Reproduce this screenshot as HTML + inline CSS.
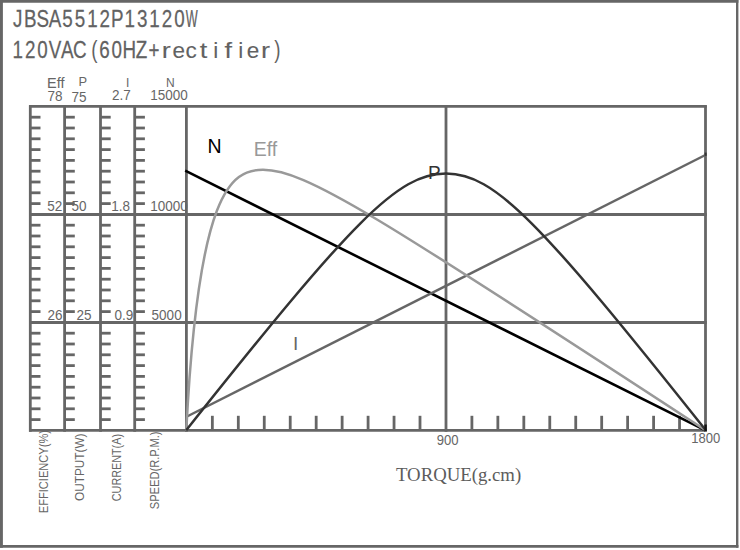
<!DOCTYPE html>
<html><head><meta charset="utf-8"><style>
html,body{margin:0;padding:0;background:#fff;width:740px;height:550px;overflow:hidden;}
svg{display:block;font-family:"Liberation Sans", sans-serif;}
</style></head><body>
<svg width="740" height="550" viewBox="0 0 740 550"><line x1="0.00" y1="1.40" x2="738.40" y2="1.40" stroke="#666" stroke-width="2.80" stroke-linecap="butt"/>
<line x1="1.45" y1="0.00" x2="1.45" y2="547.80" stroke="#666" stroke-width="2.90" stroke-linecap="butt"/>
<line x1="737.20" y1="0.00" x2="737.20" y2="547.80" stroke="#666" stroke-width="2.40" stroke-linecap="butt"/>
<line x1="0.00" y1="546.35" x2="738.40" y2="546.35" stroke="#666" stroke-width="2.90" stroke-linecap="butt"/>
<line x1="29.05" y1="106.40" x2="706.75" y2="106.40" stroke="#666" stroke-width="2.80" stroke-linecap="butt"/>
<line x1="29.05" y1="214.50" x2="706.75" y2="214.50" stroke="#666" stroke-width="2.80" stroke-linecap="butt"/>
<line x1="29.05" y1="322.50" x2="706.75" y2="322.50" stroke="#666" stroke-width="2.80" stroke-linecap="butt"/>
<line x1="29.05" y1="430.40" x2="706.75" y2="430.40" stroke="#666" stroke-width="2.80" stroke-linecap="butt"/>
<line x1="30.30" y1="105.15" x2="30.30" y2="431.65" stroke="#666" stroke-width="2.80" stroke-linecap="butt"/>
<line x1="64.60" y1="105.15" x2="64.60" y2="431.65" stroke="#666" stroke-width="2.80" stroke-linecap="butt"/>
<line x1="100.50" y1="105.15" x2="100.50" y2="431.65" stroke="#666" stroke-width="2.80" stroke-linecap="butt"/>
<line x1="134.70" y1="105.15" x2="134.70" y2="431.65" stroke="#666" stroke-width="2.80" stroke-linecap="butt"/>
<line x1="186.40" y1="105.15" x2="186.40" y2="431.65" stroke="#666" stroke-width="2.80" stroke-linecap="butt"/>
<line x1="446.00" y1="105.15" x2="446.00" y2="431.65" stroke="#666" stroke-width="2.80" stroke-linecap="butt"/>
<line x1="705.50" y1="105.15" x2="705.50" y2="431.65" stroke="#666" stroke-width="2.80" stroke-linecap="butt"/>
<line x1="30.30" y1="117.20" x2="40.50" y2="117.20" stroke="#666" stroke-width="2.80" stroke-linecap="butt"/>
<line x1="30.30" y1="128.00" x2="40.50" y2="128.00" stroke="#666" stroke-width="2.80" stroke-linecap="butt"/>
<line x1="30.30" y1="138.80" x2="40.50" y2="138.80" stroke="#666" stroke-width="2.80" stroke-linecap="butt"/>
<line x1="30.30" y1="149.60" x2="40.50" y2="149.60" stroke="#666" stroke-width="2.80" stroke-linecap="butt"/>
<line x1="30.30" y1="160.40" x2="40.50" y2="160.40" stroke="#666" stroke-width="2.80" stroke-linecap="butt"/>
<line x1="30.30" y1="171.20" x2="40.50" y2="171.20" stroke="#666" stroke-width="2.80" stroke-linecap="butt"/>
<line x1="30.30" y1="182.00" x2="40.50" y2="182.00" stroke="#666" stroke-width="2.80" stroke-linecap="butt"/>
<line x1="30.30" y1="192.80" x2="40.50" y2="192.80" stroke="#666" stroke-width="2.80" stroke-linecap="butt"/>
<line x1="30.30" y1="203.60" x2="40.50" y2="203.60" stroke="#666" stroke-width="2.80" stroke-linecap="butt"/>
<line x1="30.30" y1="225.20" x2="40.50" y2="225.20" stroke="#666" stroke-width="2.80" stroke-linecap="butt"/>
<line x1="30.30" y1="236.00" x2="40.50" y2="236.00" stroke="#666" stroke-width="2.80" stroke-linecap="butt"/>
<line x1="30.30" y1="246.80" x2="40.50" y2="246.80" stroke="#666" stroke-width="2.80" stroke-linecap="butt"/>
<line x1="30.30" y1="257.60" x2="40.50" y2="257.60" stroke="#666" stroke-width="2.80" stroke-linecap="butt"/>
<line x1="30.30" y1="268.40" x2="40.50" y2="268.40" stroke="#666" stroke-width="2.80" stroke-linecap="butt"/>
<line x1="30.30" y1="279.20" x2="40.50" y2="279.20" stroke="#666" stroke-width="2.80" stroke-linecap="butt"/>
<line x1="30.30" y1="290.00" x2="40.50" y2="290.00" stroke="#666" stroke-width="2.80" stroke-linecap="butt"/>
<line x1="30.30" y1="300.80" x2="40.50" y2="300.80" stroke="#666" stroke-width="2.80" stroke-linecap="butt"/>
<line x1="30.30" y1="311.60" x2="40.50" y2="311.60" stroke="#666" stroke-width="2.80" stroke-linecap="butt"/>
<line x1="30.30" y1="333.20" x2="40.50" y2="333.20" stroke="#666" stroke-width="2.80" stroke-linecap="butt"/>
<line x1="30.30" y1="344.00" x2="40.50" y2="344.00" stroke="#666" stroke-width="2.80" stroke-linecap="butt"/>
<line x1="30.30" y1="354.80" x2="40.50" y2="354.80" stroke="#666" stroke-width="2.80" stroke-linecap="butt"/>
<line x1="30.30" y1="365.60" x2="40.50" y2="365.60" stroke="#666" stroke-width="2.80" stroke-linecap="butt"/>
<line x1="30.30" y1="376.40" x2="40.50" y2="376.40" stroke="#666" stroke-width="2.80" stroke-linecap="butt"/>
<line x1="30.30" y1="387.20" x2="40.50" y2="387.20" stroke="#666" stroke-width="2.80" stroke-linecap="butt"/>
<line x1="30.30" y1="398.00" x2="40.50" y2="398.00" stroke="#666" stroke-width="2.80" stroke-linecap="butt"/>
<line x1="30.30" y1="408.80" x2="40.50" y2="408.80" stroke="#666" stroke-width="2.80" stroke-linecap="butt"/>
<line x1="30.30" y1="419.60" x2="40.50" y2="419.60" stroke="#666" stroke-width="2.80" stroke-linecap="butt"/>
<line x1="64.60" y1="117.20" x2="74.80" y2="117.20" stroke="#666" stroke-width="2.80" stroke-linecap="butt"/>
<line x1="64.60" y1="128.00" x2="74.80" y2="128.00" stroke="#666" stroke-width="2.80" stroke-linecap="butt"/>
<line x1="64.60" y1="138.80" x2="74.80" y2="138.80" stroke="#666" stroke-width="2.80" stroke-linecap="butt"/>
<line x1="64.60" y1="149.60" x2="74.80" y2="149.60" stroke="#666" stroke-width="2.80" stroke-linecap="butt"/>
<line x1="64.60" y1="160.40" x2="74.80" y2="160.40" stroke="#666" stroke-width="2.80" stroke-linecap="butt"/>
<line x1="64.60" y1="171.20" x2="74.80" y2="171.20" stroke="#666" stroke-width="2.80" stroke-linecap="butt"/>
<line x1="64.60" y1="182.00" x2="74.80" y2="182.00" stroke="#666" stroke-width="2.80" stroke-linecap="butt"/>
<line x1="64.60" y1="192.80" x2="74.80" y2="192.80" stroke="#666" stroke-width="2.80" stroke-linecap="butt"/>
<line x1="64.60" y1="203.60" x2="74.80" y2="203.60" stroke="#666" stroke-width="2.80" stroke-linecap="butt"/>
<line x1="64.60" y1="225.20" x2="74.80" y2="225.20" stroke="#666" stroke-width="2.80" stroke-linecap="butt"/>
<line x1="64.60" y1="236.00" x2="74.80" y2="236.00" stroke="#666" stroke-width="2.80" stroke-linecap="butt"/>
<line x1="64.60" y1="246.80" x2="74.80" y2="246.80" stroke="#666" stroke-width="2.80" stroke-linecap="butt"/>
<line x1="64.60" y1="257.60" x2="74.80" y2="257.60" stroke="#666" stroke-width="2.80" stroke-linecap="butt"/>
<line x1="64.60" y1="268.40" x2="74.80" y2="268.40" stroke="#666" stroke-width="2.80" stroke-linecap="butt"/>
<line x1="64.60" y1="279.20" x2="74.80" y2="279.20" stroke="#666" stroke-width="2.80" stroke-linecap="butt"/>
<line x1="64.60" y1="290.00" x2="74.80" y2="290.00" stroke="#666" stroke-width="2.80" stroke-linecap="butt"/>
<line x1="64.60" y1="300.80" x2="74.80" y2="300.80" stroke="#666" stroke-width="2.80" stroke-linecap="butt"/>
<line x1="64.60" y1="311.60" x2="74.80" y2="311.60" stroke="#666" stroke-width="2.80" stroke-linecap="butt"/>
<line x1="64.60" y1="333.20" x2="74.80" y2="333.20" stroke="#666" stroke-width="2.80" stroke-linecap="butt"/>
<line x1="64.60" y1="344.00" x2="74.80" y2="344.00" stroke="#666" stroke-width="2.80" stroke-linecap="butt"/>
<line x1="64.60" y1="354.80" x2="74.80" y2="354.80" stroke="#666" stroke-width="2.80" stroke-linecap="butt"/>
<line x1="64.60" y1="365.60" x2="74.80" y2="365.60" stroke="#666" stroke-width="2.80" stroke-linecap="butt"/>
<line x1="64.60" y1="376.40" x2="74.80" y2="376.40" stroke="#666" stroke-width="2.80" stroke-linecap="butt"/>
<line x1="64.60" y1="387.20" x2="74.80" y2="387.20" stroke="#666" stroke-width="2.80" stroke-linecap="butt"/>
<line x1="64.60" y1="398.00" x2="74.80" y2="398.00" stroke="#666" stroke-width="2.80" stroke-linecap="butt"/>
<line x1="64.60" y1="408.80" x2="74.80" y2="408.80" stroke="#666" stroke-width="2.80" stroke-linecap="butt"/>
<line x1="64.60" y1="419.60" x2="74.80" y2="419.60" stroke="#666" stroke-width="2.80" stroke-linecap="butt"/>
<line x1="100.50" y1="117.20" x2="110.70" y2="117.20" stroke="#666" stroke-width="2.80" stroke-linecap="butt"/>
<line x1="100.50" y1="128.00" x2="110.70" y2="128.00" stroke="#666" stroke-width="2.80" stroke-linecap="butt"/>
<line x1="100.50" y1="138.80" x2="110.70" y2="138.80" stroke="#666" stroke-width="2.80" stroke-linecap="butt"/>
<line x1="100.50" y1="149.60" x2="110.70" y2="149.60" stroke="#666" stroke-width="2.80" stroke-linecap="butt"/>
<line x1="100.50" y1="160.40" x2="110.70" y2="160.40" stroke="#666" stroke-width="2.80" stroke-linecap="butt"/>
<line x1="100.50" y1="171.20" x2="110.70" y2="171.20" stroke="#666" stroke-width="2.80" stroke-linecap="butt"/>
<line x1="100.50" y1="182.00" x2="110.70" y2="182.00" stroke="#666" stroke-width="2.80" stroke-linecap="butt"/>
<line x1="100.50" y1="192.80" x2="110.70" y2="192.80" stroke="#666" stroke-width="2.80" stroke-linecap="butt"/>
<line x1="100.50" y1="203.60" x2="110.70" y2="203.60" stroke="#666" stroke-width="2.80" stroke-linecap="butt"/>
<line x1="100.50" y1="225.20" x2="110.70" y2="225.20" stroke="#666" stroke-width="2.80" stroke-linecap="butt"/>
<line x1="100.50" y1="236.00" x2="110.70" y2="236.00" stroke="#666" stroke-width="2.80" stroke-linecap="butt"/>
<line x1="100.50" y1="246.80" x2="110.70" y2="246.80" stroke="#666" stroke-width="2.80" stroke-linecap="butt"/>
<line x1="100.50" y1="257.60" x2="110.70" y2="257.60" stroke="#666" stroke-width="2.80" stroke-linecap="butt"/>
<line x1="100.50" y1="268.40" x2="110.70" y2="268.40" stroke="#666" stroke-width="2.80" stroke-linecap="butt"/>
<line x1="100.50" y1="279.20" x2="110.70" y2="279.20" stroke="#666" stroke-width="2.80" stroke-linecap="butt"/>
<line x1="100.50" y1="290.00" x2="110.70" y2="290.00" stroke="#666" stroke-width="2.80" stroke-linecap="butt"/>
<line x1="100.50" y1="300.80" x2="110.70" y2="300.80" stroke="#666" stroke-width="2.80" stroke-linecap="butt"/>
<line x1="100.50" y1="311.60" x2="110.70" y2="311.60" stroke="#666" stroke-width="2.80" stroke-linecap="butt"/>
<line x1="100.50" y1="333.20" x2="110.70" y2="333.20" stroke="#666" stroke-width="2.80" stroke-linecap="butt"/>
<line x1="100.50" y1="344.00" x2="110.70" y2="344.00" stroke="#666" stroke-width="2.80" stroke-linecap="butt"/>
<line x1="100.50" y1="354.80" x2="110.70" y2="354.80" stroke="#666" stroke-width="2.80" stroke-linecap="butt"/>
<line x1="100.50" y1="365.60" x2="110.70" y2="365.60" stroke="#666" stroke-width="2.80" stroke-linecap="butt"/>
<line x1="100.50" y1="376.40" x2="110.70" y2="376.40" stroke="#666" stroke-width="2.80" stroke-linecap="butt"/>
<line x1="100.50" y1="387.20" x2="110.70" y2="387.20" stroke="#666" stroke-width="2.80" stroke-linecap="butt"/>
<line x1="100.50" y1="398.00" x2="110.70" y2="398.00" stroke="#666" stroke-width="2.80" stroke-linecap="butt"/>
<line x1="100.50" y1="408.80" x2="110.70" y2="408.80" stroke="#666" stroke-width="2.80" stroke-linecap="butt"/>
<line x1="100.50" y1="419.60" x2="110.70" y2="419.60" stroke="#666" stroke-width="2.80" stroke-linecap="butt"/>
<line x1="134.70" y1="117.20" x2="144.90" y2="117.20" stroke="#666" stroke-width="2.80" stroke-linecap="butt"/>
<line x1="134.70" y1="128.00" x2="144.90" y2="128.00" stroke="#666" stroke-width="2.80" stroke-linecap="butt"/>
<line x1="134.70" y1="138.80" x2="144.90" y2="138.80" stroke="#666" stroke-width="2.80" stroke-linecap="butt"/>
<line x1="134.70" y1="149.60" x2="144.90" y2="149.60" stroke="#666" stroke-width="2.80" stroke-linecap="butt"/>
<line x1="134.70" y1="160.40" x2="144.90" y2="160.40" stroke="#666" stroke-width="2.80" stroke-linecap="butt"/>
<line x1="134.70" y1="171.20" x2="144.90" y2="171.20" stroke="#666" stroke-width="2.80" stroke-linecap="butt"/>
<line x1="134.70" y1="182.00" x2="144.90" y2="182.00" stroke="#666" stroke-width="2.80" stroke-linecap="butt"/>
<line x1="134.70" y1="192.80" x2="144.90" y2="192.80" stroke="#666" stroke-width="2.80" stroke-linecap="butt"/>
<line x1="134.70" y1="203.60" x2="144.90" y2="203.60" stroke="#666" stroke-width="2.80" stroke-linecap="butt"/>
<line x1="134.70" y1="225.20" x2="144.90" y2="225.20" stroke="#666" stroke-width="2.80" stroke-linecap="butt"/>
<line x1="134.70" y1="236.00" x2="144.90" y2="236.00" stroke="#666" stroke-width="2.80" stroke-linecap="butt"/>
<line x1="134.70" y1="246.80" x2="144.90" y2="246.80" stroke="#666" stroke-width="2.80" stroke-linecap="butt"/>
<line x1="134.70" y1="257.60" x2="144.90" y2="257.60" stroke="#666" stroke-width="2.80" stroke-linecap="butt"/>
<line x1="134.70" y1="268.40" x2="144.90" y2="268.40" stroke="#666" stroke-width="2.80" stroke-linecap="butt"/>
<line x1="134.70" y1="279.20" x2="144.90" y2="279.20" stroke="#666" stroke-width="2.80" stroke-linecap="butt"/>
<line x1="134.70" y1="290.00" x2="144.90" y2="290.00" stroke="#666" stroke-width="2.80" stroke-linecap="butt"/>
<line x1="134.70" y1="300.80" x2="144.90" y2="300.80" stroke="#666" stroke-width="2.80" stroke-linecap="butt"/>
<line x1="134.70" y1="311.60" x2="144.90" y2="311.60" stroke="#666" stroke-width="2.80" stroke-linecap="butt"/>
<line x1="134.70" y1="333.20" x2="144.90" y2="333.20" stroke="#666" stroke-width="2.80" stroke-linecap="butt"/>
<line x1="134.70" y1="344.00" x2="144.90" y2="344.00" stroke="#666" stroke-width="2.80" stroke-linecap="butt"/>
<line x1="134.70" y1="354.80" x2="144.90" y2="354.80" stroke="#666" stroke-width="2.80" stroke-linecap="butt"/>
<line x1="134.70" y1="365.60" x2="144.90" y2="365.60" stroke="#666" stroke-width="2.80" stroke-linecap="butt"/>
<line x1="134.70" y1="376.40" x2="144.90" y2="376.40" stroke="#666" stroke-width="2.80" stroke-linecap="butt"/>
<line x1="134.70" y1="387.20" x2="144.90" y2="387.20" stroke="#666" stroke-width="2.80" stroke-linecap="butt"/>
<line x1="134.70" y1="398.00" x2="144.90" y2="398.00" stroke="#666" stroke-width="2.80" stroke-linecap="butt"/>
<line x1="134.70" y1="408.80" x2="144.90" y2="408.80" stroke="#666" stroke-width="2.80" stroke-linecap="butt"/>
<line x1="134.70" y1="419.60" x2="144.90" y2="419.60" stroke="#666" stroke-width="2.80" stroke-linecap="butt"/>
<line x1="212.36" y1="415.80" x2="212.36" y2="430.40" stroke="#666" stroke-width="2.80" stroke-linecap="butt"/>
<line x1="238.31" y1="415.80" x2="238.31" y2="430.40" stroke="#666" stroke-width="2.80" stroke-linecap="butt"/>
<line x1="264.26" y1="415.80" x2="264.26" y2="430.40" stroke="#666" stroke-width="2.80" stroke-linecap="butt"/>
<line x1="290.22" y1="415.80" x2="290.22" y2="430.40" stroke="#666" stroke-width="2.80" stroke-linecap="butt"/>
<line x1="316.18" y1="415.80" x2="316.18" y2="430.40" stroke="#666" stroke-width="2.80" stroke-linecap="butt"/>
<line x1="342.13" y1="415.80" x2="342.13" y2="430.40" stroke="#666" stroke-width="2.80" stroke-linecap="butt"/>
<line x1="368.09" y1="415.80" x2="368.09" y2="430.40" stroke="#666" stroke-width="2.80" stroke-linecap="butt"/>
<line x1="394.04" y1="415.80" x2="394.04" y2="430.40" stroke="#666" stroke-width="2.80" stroke-linecap="butt"/>
<line x1="420.00" y1="415.80" x2="420.00" y2="430.40" stroke="#666" stroke-width="2.80" stroke-linecap="butt"/>
<line x1="471.90" y1="415.80" x2="471.90" y2="430.40" stroke="#666" stroke-width="2.80" stroke-linecap="butt"/>
<line x1="497.86" y1="415.80" x2="497.86" y2="430.40" stroke="#666" stroke-width="2.80" stroke-linecap="butt"/>
<line x1="523.82" y1="415.80" x2="523.82" y2="430.40" stroke="#666" stroke-width="2.80" stroke-linecap="butt"/>
<line x1="549.77" y1="415.80" x2="549.77" y2="430.40" stroke="#666" stroke-width="2.80" stroke-linecap="butt"/>
<line x1="575.73" y1="415.80" x2="575.73" y2="430.40" stroke="#666" stroke-width="2.80" stroke-linecap="butt"/>
<line x1="601.68" y1="415.80" x2="601.68" y2="430.40" stroke="#666" stroke-width="2.80" stroke-linecap="butt"/>
<line x1="627.63" y1="415.80" x2="627.63" y2="430.40" stroke="#666" stroke-width="2.80" stroke-linecap="butt"/>
<line x1="653.59" y1="415.80" x2="653.59" y2="430.40" stroke="#666" stroke-width="2.80" stroke-linecap="butt"/>
<line x1="679.54" y1="415.80" x2="679.54" y2="430.40" stroke="#666" stroke-width="2.80" stroke-linecap="butt"/>
<line x1="185.20" y1="170.70" x2="705.50" y2="430.40" stroke="#000" stroke-width="2.60" stroke-linecap="butt"/>
<line x1="187.00" y1="416.50" x2="706.40" y2="154.50" stroke="#666" stroke-width="2.50" stroke-linecap="butt"/>
<rect x="704.6" y="152.6" width="2.0" height="3.2" fill="#333"/>
<path d="M186.3,430.3 C198.32,192.31 230.29,169.7 263,169.7 C305.15,169.7 375.03,214.2 705.5,430.2" fill="none" stroke="#999" stroke-width="2.5"/>
<path d="M186.2,430.3 C352.32,221.27 397.43,173.5 446,173.5 C494.57,173.5 539.68,221.27 705.8,430.3" fill="none" stroke="#333" stroke-width="2.5"/>
<rect x="704.4" y="424.5" width="2.4" height="6.5" fill="#111"/>
<text x="207.50" y="153.20" font-family="Liberation Sans" font-size="19.50" fill="#000" text-anchor="start" >N</text>
<text x="253.80" y="156.30" font-family="Liberation Sans" font-size="19.50" fill="#999" text-anchor="start" >Eff</text>
<text x="428.00" y="179.40" font-family="Liberation Sans" font-size="19.00" fill="#333" text-anchor="start" >P</text>
<text x="293.00" y="350.00" font-family="Liberation Sans" font-size="19.00" fill="#666" text-anchor="start" >I</text>
<text x="47.00" y="87.50" font-family="Liberation Sans" font-size="14.50" fill="#666" text-anchor="start" >Eff</text>
<text x="78.60" y="85.90" font-family="Liberation Sans" font-size="12.00" fill="#666" text-anchor="start" textLength="8.6" lengthAdjust="spacingAndGlyphs">P</text>
<text x="126.00" y="87.30" font-family="Liberation Sans" font-size="12.00" fill="#666" text-anchor="start" >I</text>
<text x="166.00" y="87.30" font-family="Liberation Sans" font-size="12.00" fill="#666" text-anchor="start" >N</text>
<text x="47.50" y="100.50" font-family="Liberation Sans" font-size="14.30" fill="#666" text-anchor="start" textLength="15.03" lengthAdjust="spacingAndGlyphs">78</text>
<text x="71.50" y="101.70" font-family="Liberation Sans" font-size="14.30" fill="#666" text-anchor="start" textLength="15.03" lengthAdjust="spacingAndGlyphs">75</text>
<text x="112.00" y="100.10" font-family="Liberation Sans" font-size="14.30" fill="#666" text-anchor="start" textLength="18.78" lengthAdjust="spacingAndGlyphs">2.7</text>
<text x="150.20" y="100.10" font-family="Liberation Sans" font-size="14.30" fill="#666" text-anchor="start" textLength="37.55" lengthAdjust="spacingAndGlyphs">15000</text>
<text x="47.20" y="210.80" font-family="Liberation Sans" font-size="14.30" fill="#666" text-anchor="start" textLength="15.03" lengthAdjust="spacingAndGlyphs">52</text>
<text x="71.50" y="210.80" font-family="Liberation Sans" font-size="14.30" fill="#666" text-anchor="start" textLength="15.03" lengthAdjust="spacingAndGlyphs">50</text>
<text x="111.20" y="210.80" font-family="Liberation Sans" font-size="14.30" fill="#666" text-anchor="start" textLength="18.78" lengthAdjust="spacingAndGlyphs">1.8</text>
<text x="150.20" y="210.80" font-family="Liberation Sans" font-size="14.30" fill="#666" text-anchor="start" textLength="37.55" lengthAdjust="spacingAndGlyphs">10000</text>
<text x="47.60" y="320.00" font-family="Liberation Sans" font-size="14.30" fill="#666" text-anchor="start" textLength="15.03" lengthAdjust="spacingAndGlyphs">26</text>
<text x="76.60" y="320.00" font-family="Liberation Sans" font-size="14.30" fill="#666" text-anchor="start" textLength="15.03" lengthAdjust="spacingAndGlyphs">25</text>
<text x="114.60" y="320.00" font-family="Liberation Sans" font-size="14.30" fill="#666" text-anchor="start" textLength="18.78" lengthAdjust="spacingAndGlyphs">0.9</text>
<text x="151.60" y="320.00" font-family="Liberation Sans" font-size="14.30" fill="#666" text-anchor="start" textLength="30.05" lengthAdjust="spacingAndGlyphs">5000</text>
<text x="436.80" y="444.60" font-family="Liberation Sans" font-size="14.00" fill="#666" text-anchor="start" textLength="21.8" lengthAdjust="spacingAndGlyphs">900</text>
<text x="691.20" y="443.30" font-family="Liberation Sans" font-size="14.00" fill="#666" text-anchor="start" textLength="29.0" lengthAdjust="spacingAndGlyphs">1800</text>
<text x="396.00" y="480.50" font-family="Liberation Serif" font-size="18.80" fill="#5c5c5c" text-anchor="start" textLength="125.2" lengthAdjust="spacingAndGlyphs">TORQUE(g.cm)</text>
<text transform="translate(47.90,430.00) rotate(-90)" font-family="Liberation Sans" font-size="12.00" fill="#666" text-anchor="end" textLength="83.20" lengthAdjust="spacingAndGlyphs">EFFICIENCY(%)</text>
<text transform="translate(83.50,433.50) rotate(-90)" font-family="Liberation Sans" font-size="12.00" fill="#666" text-anchor="end" textLength="67.50" lengthAdjust="spacingAndGlyphs">OUTPUT(W)</text>
<text transform="translate(120.50,434.00) rotate(-90)" font-family="Liberation Sans" font-size="12.00" fill="#666" text-anchor="end" textLength="67.20" lengthAdjust="spacingAndGlyphs">CURRENT(A)</text>
<text transform="translate(158.90,431.50) rotate(-90)" font-family="Liberation Sans" font-size="12.00" fill="#666" text-anchor="end" textLength="77.80" lengthAdjust="spacingAndGlyphs">SPEED(R.P.M.)</text>
<text transform="translate(17.81,27.00) scale(0.800,1)" font-family="Liberation Sans" font-size="23.50" fill="#626262" stroke="#626262" stroke-width="0.25" text-anchor="middle">J</text>
<text transform="translate(30.25,27.00) scale(0.800,1)" font-family="Liberation Sans" font-size="23.50" fill="#626262" stroke="#626262" stroke-width="0.25" text-anchor="middle">B</text>
<text transform="translate(42.67,27.00) scale(0.800,1)" font-family="Liberation Sans" font-size="23.50" fill="#626262" stroke="#626262" stroke-width="0.25" text-anchor="middle">S</text>
<text transform="translate(55.11,27.00) scale(0.800,1)" font-family="Liberation Sans" font-size="23.50" fill="#626262" stroke="#626262" stroke-width="0.25" text-anchor="middle">A</text>
<text transform="translate(67.53,27.00) scale(0.800,1)" font-family="Liberation Sans" font-size="23.50" fill="#626262" stroke="#626262" stroke-width="0.25" text-anchor="middle">5</text>
<text transform="translate(79.97,27.00) scale(0.800,1)" font-family="Liberation Sans" font-size="23.50" fill="#626262" stroke="#626262" stroke-width="0.25" text-anchor="middle">5</text>
<text transform="translate(92.39,27.00) scale(0.800,1)" font-family="Liberation Sans" font-size="23.50" fill="#626262" stroke="#626262" stroke-width="0.25" text-anchor="middle">1</text>
<text transform="translate(104.82,27.00) scale(0.800,1)" font-family="Liberation Sans" font-size="23.50" fill="#626262" stroke="#626262" stroke-width="0.25" text-anchor="middle">2</text>
<text transform="translate(117.25,27.00) scale(0.800,1)" font-family="Liberation Sans" font-size="23.50" fill="#626262" stroke="#626262" stroke-width="0.25" text-anchor="middle">P</text>
<text transform="translate(129.69,27.00) scale(0.800,1)" font-family="Liberation Sans" font-size="23.50" fill="#626262" stroke="#626262" stroke-width="0.25" text-anchor="middle">1</text>
<text transform="translate(142.12,27.00) scale(0.800,1)" font-family="Liberation Sans" font-size="23.50" fill="#626262" stroke="#626262" stroke-width="0.25" text-anchor="middle">3</text>
<text transform="translate(154.54,27.00) scale(0.800,1)" font-family="Liberation Sans" font-size="23.50" fill="#626262" stroke="#626262" stroke-width="0.25" text-anchor="middle">1</text>
<text transform="translate(166.97,27.00) scale(0.800,1)" font-family="Liberation Sans" font-size="23.50" fill="#626262" stroke="#626262" stroke-width="0.25" text-anchor="middle">2</text>
<text transform="translate(179.41,27.00) scale(0.800,1)" font-family="Liberation Sans" font-size="23.50" fill="#626262" stroke="#626262" stroke-width="0.25" text-anchor="middle">0</text>
<text transform="translate(191.83,27.00) scale(0.540,1)" font-family="Liberation Sans" font-size="23.50" fill="#626262" stroke="#626262" stroke-width="0.25" text-anchor="middle">W</text>
<text transform="translate(17.79,57.80) scale(0.800,1)" font-family="Liberation Sans" font-size="23.50" fill="#626262" stroke="#626262" stroke-width="0.25" text-anchor="middle">1</text>
<text transform="translate(30.17,57.80) scale(0.800,1)" font-family="Liberation Sans" font-size="23.50" fill="#626262" stroke="#626262" stroke-width="0.25" text-anchor="middle">2</text>
<text transform="translate(42.55,57.80) scale(0.800,1)" font-family="Liberation Sans" font-size="23.50" fill="#626262" stroke="#626262" stroke-width="0.25" text-anchor="middle">0</text>
<text transform="translate(54.93,57.80) scale(0.800,1)" font-family="Liberation Sans" font-size="23.50" fill="#626262" stroke="#626262" stroke-width="0.25" text-anchor="middle">V</text>
<text transform="translate(67.31,57.80) scale(0.800,1)" font-family="Liberation Sans" font-size="23.50" fill="#626262" stroke="#626262" stroke-width="0.25" text-anchor="middle">A</text>
<text transform="translate(79.69,57.80) scale(0.800,1)" font-family="Liberation Sans" font-size="23.50" fill="#626262" stroke="#626262" stroke-width="0.25" text-anchor="middle">C</text>
<text transform="translate(94.27,57.80) scale(0.800,1)" font-family="Liberation Sans" font-size="23.50" fill="#626262" stroke="#626262" stroke-width="0.00" text-anchor="middle">(</text>
<text transform="translate(104.45,57.80) scale(0.800,1)" font-family="Liberation Sans" font-size="23.50" fill="#626262" stroke="#626262" stroke-width="0.25" text-anchor="middle">6</text>
<text transform="translate(116.83,57.80) scale(0.800,1)" font-family="Liberation Sans" font-size="23.50" fill="#626262" stroke="#626262" stroke-width="0.25" text-anchor="middle">0</text>
<text transform="translate(129.21,57.80) scale(0.800,1)" font-family="Liberation Sans" font-size="23.50" fill="#626262" stroke="#626262" stroke-width="0.25" text-anchor="middle">H</text>
<text transform="translate(141.59,57.80) scale(0.800,1)" font-family="Liberation Sans" font-size="23.50" fill="#626262" stroke="#626262" stroke-width="0.25" text-anchor="middle">Z</text>
<text transform="translate(153.97,57.80) scale(0.800,1)" font-family="Liberation Sans" font-size="23.50" fill="#626262" stroke="#626262" stroke-width="0.25" text-anchor="middle">+</text>
<text transform="translate(166.35,57.80) scale(1.200,1)" font-family="Liberation Sans" font-size="22.56" fill="#626262" stroke="#626262" stroke-width="0.10" text-anchor="middle">r</text>
<text transform="translate(178.73,57.80) scale(1.000,1)" font-family="Liberation Sans" font-size="22.56" fill="#626262" stroke="#626262" stroke-width="0.10" text-anchor="middle">e</text>
<text transform="translate(191.11,57.80) scale(1.000,1)" font-family="Liberation Sans" font-size="22.56" fill="#626262" stroke="#626262" stroke-width="0.10" text-anchor="middle">c</text>
<text transform="translate(203.49,57.80) scale(1.200,1)" font-family="Liberation Sans" font-size="22.56" fill="#626262" stroke="#626262" stroke-width="0.10" text-anchor="middle">t</text>
<text transform="translate(215.87,57.80) scale(1.000,1)" font-family="Liberation Sans" font-size="22.56" fill="#626262" stroke="#626262" stroke-width="0.10" text-anchor="middle">i</text>
<text transform="translate(228.25,57.80) scale(1.200,1)" font-family="Liberation Sans" font-size="22.56" fill="#626262" stroke="#626262" stroke-width="0.10" text-anchor="middle">f</text>
<text transform="translate(240.63,57.80) scale(1.000,1)" font-family="Liberation Sans" font-size="22.56" fill="#626262" stroke="#626262" stroke-width="0.10" text-anchor="middle">i</text>
<text transform="translate(253.01,57.80) scale(1.000,1)" font-family="Liberation Sans" font-size="22.56" fill="#626262" stroke="#626262" stroke-width="0.10" text-anchor="middle">e</text>
<text transform="translate(265.39,57.80) scale(1.200,1)" font-family="Liberation Sans" font-size="22.56" fill="#626262" stroke="#626262" stroke-width="0.10" text-anchor="middle">r</text>
<text transform="translate(277.47,57.80) scale(0.800,1)" font-family="Liberation Sans" font-size="23.50" fill="#626262" stroke="#626262" stroke-width="0.00" text-anchor="middle">)</text></svg>
</body></html>
